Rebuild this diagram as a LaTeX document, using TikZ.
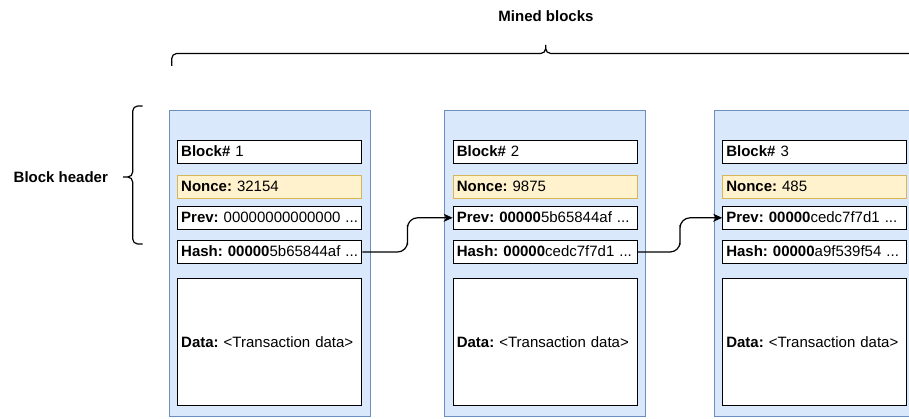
\documentclass[tikz,border=0pt]{standalone}
\usepackage{fontspec}
\setmainfont{Liberation Sans}
\usepackage{tikz}
\usetikzlibrary{shapes,arrows,arrows.meta,positioning,calc}
\definecolor{blockfill}{HTML}{DAE8FC}
\definecolor{blockedge}{HTML}{6C8EBF}
\definecolor{noncefill}{HTML}{FFF2CC}
\definecolor{nonceedge}{HTML}{D6B656}
\tikzstyle{chain} = [rectangle, draw=blockedge, fill=blockfill, line width=1pt, minimum width=201pt, minimum height=306pt]
\tikzstyle{field} = [rectangle, draw, fill=white, line width=1.2pt, inner xsep=3.5pt, inner ysep=0pt, text width=177pt, align=left, minimum height=23pt, text height=12pt, text depth=2pt, execute at begin node=\frenchspacing]
\tikzstyle{nonce} = [field, draw=nonceedge, fill=noncefill]
\tikzstyle{datafield} = [field, minimum height=127pt]
\tikzstyle{line} = [draw, line width=1.2pt, -{Stealth[length=9pt, width=8pt, inset=2.5pt]}, rounded corners=10pt]
\tikzstyle{brace} = [draw, line width=1.2pt]

\begin{document}
\begin{tikzpicture}[x=1pt, y=1pt, every node/.style={font=\fontsize{15pt}{18pt}\selectfont}]
		\useasboundingbox (0,0) rectangle (909,-419);
		% Blocks
		\node[chain] (Block1) at (269.7,-263.7) {};
		\node[chain, right of = Block1, node distance = 275.6pt] (Block2) {};
		\node[chain, right of = Block2, node distance = 269.5pt] (Block3) {};
		
		% Row 1
		\node[field] (num1) at (269.7,-152) {\textbf{Block\#}~1};
		\node[field, right of = num1, node distance = 275.6pt] (num2) {\textbf{Block\#}~2};
		\node[field, right of = num2, node distance = 269.5pt] (num3) {\textbf{Block\#}~3};
		
		% Row 2
		\node[nonce, below of = num1, node distance = 34.8pt] (nonce1) {\textbf{Nonce:}~32154};
		\node[nonce, below of = num2, node distance = 34.8pt] (nonce2) {\textbf{Nonce:}~9875};
		\node[nonce, below of = num3, node distance = 34.8pt] (nonce3) {\textbf{Nonce:}~485};
		
		% Row 3
		\node[field, below of = nonce1, node distance = 31pt] (prev1) {\textbf{Prev:}~00000000000000~...};
		\node[field, below of = nonce2, node distance = 31pt] (prev2) {\textbf{Prev:~00000}5b65844af~...};
		\node[field, below of = nonce3, node distance = 31pt] (prev3) {\textbf{Prev:~00000}cedc7f7d1~...};
		
		% Row 4
		\node[field, below of = prev1, node distance = 34.2pt] (hash1) {\textbf{Hash:~00000}5b65844af~...};
		\node[field, below of = prev2, node distance = 34.2pt] (hash2) {\textbf{Hash:~00000}cedc7f7d1~...};
		\node[field, below of = prev3, node distance = 34.2pt] (hash3) {\textbf{Hash:~00000}a9f539f54~...};
		
		% Row 5
		\node[datafield, below of = hash1, node distance = 90pt] (data1) {\textbf{Data:}~<Transaction data>};
		\node[datafield, below of = hash2, node distance = 90pt] (data2) {\textbf{Data:}~<Transaction data>};
		\node[datafield, below of = hash3, node distance = 90pt] (data3) {\textbf{Data:}~<Transaction data>};
		
		% Labels
		\node (Mined) at (546,-16) {\textbf{Mined blocks}};
		\node (Header) at (60.8,-177) {\textbf{Block header}};
		
		% Braces
		\path[brace] (171.7,-66) -- (171.7,-58.5) arc[start angle=180, end angle=90, radius=5] -- (540.7,-53.5) arc[start angle=270, end angle=360, radius=5] -- (545.7,-45)
			(545.7,-48.5) arc[start angle=180, end angle=270, radius=5] -- (914.7,-53.5) arc[start angle=90, end angle=0, radius=5] -- (919.7,-66);
		\path[brace] (142.7,-106) -- (137.7,-106) arc[start angle=90, end angle=180, radius=5] -- (132.7,-172) arc[start angle=0, end angle=-90, radius=5] -- (123,-177)
			(127.7,-177) arc[start angle=90, end angle=0, radius=5] -- (132.7,-239) arc[start angle=180, end angle=270, radius=5] -- (142.7,-244);
		
		% Paths
		\path [line] (hash1.east) -| ($(hash1.east)!0.5!(prev2.west)$) |- (prev2.west);
		\path [line] (hash2.east) -| ($(hash2.east)!0.5!(prev3.west)$) |- (prev3.west);
		
	\end{tikzpicture}
\end{document}
